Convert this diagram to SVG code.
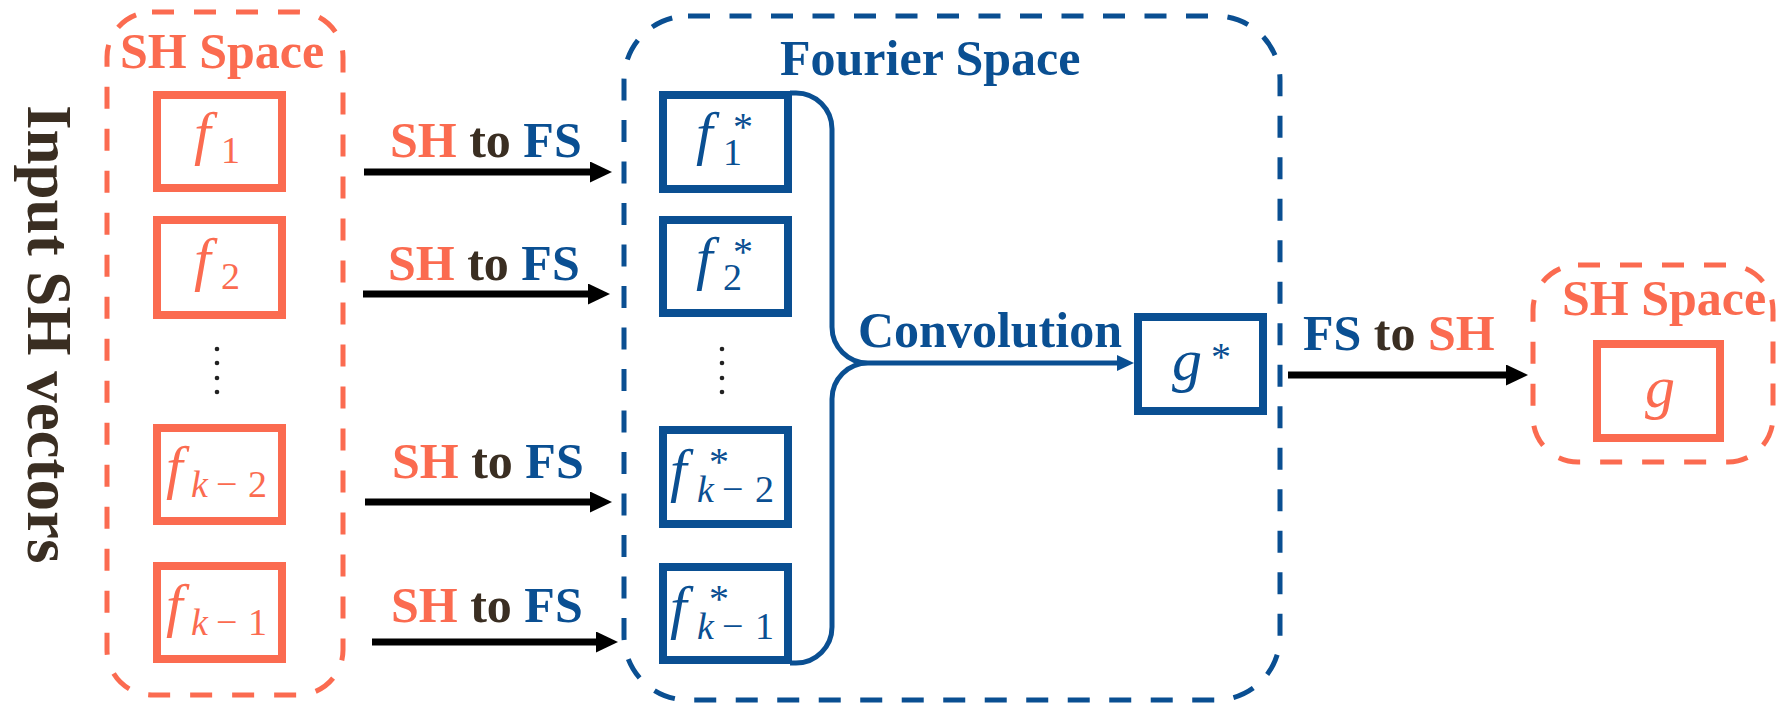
<svg xmlns="http://www.w3.org/2000/svg" width="1777" height="705" viewBox="0 0 1777 705">
<style>
.bg{fill:#ffffff}
.odash{fill:none;stroke:#FB6B50;stroke-width:5;stroke-dasharray:22 20}
.bdash{fill:none;stroke:#0A4F92;stroke-width:5;stroke-dasharray:22 19.5}
.obox{fill:#ffffff;stroke:#FB6B50;stroke-width:8}
.bbox{fill:#ffffff;stroke:#0A4F92;stroke-width:8}
.lbl{font-family:"Liberation Serif","Times New Roman",serif;font-weight:bold;font-size:50px}
.o{fill:#FB6B50}
.b{fill:#0A4F92}
.d{fill:#3A2E22}
.m{font-family:"Liberation Serif","Times New Roman",serif;font-style:italic}
.big{font-size:60px;font-style:italic}
.sub{font-size:38px;font-style:normal}
.subi{font-size:38px;font-style:italic}
.sup{font-size:40px;font-style:normal}
.arr{stroke:#000;stroke-width:7;fill:none}
.conv{stroke:#0A4F92;stroke-width:5;fill:none}
.dot{fill:#222}
</style>
<defs>
<marker id="ah" markerUnits="userSpaceOnUse" viewBox="0 0 22 21" markerWidth="22" markerHeight="21" refX="2" refY="10.5" orient="auto">
<path d="M0,0 L22,10.5 L0,21 Z" fill="#000"/>
</marker>
<marker id="ahb" markerUnits="userSpaceOnUse" viewBox="0 0 17 16" markerWidth="17" markerHeight="16" refX="2" refY="8" orient="auto">
<path d="M0,0 L17,8 L0,16 Z" fill="#0A4F92"/>
</marker>
</defs>
<rect class="bg" x="0" y="0" width="1777" height="705"/>

<g id="input-label">
<text class="lbl d" style="font-size:63px" transform="translate(28,105) rotate(90)">Input SH vectors</text>
</g>

<g id="sh-space-left">
<rect class="odash" x="107" y="12" width="236" height="683" rx="45" ry="45"/>
<text class="lbl o" x="120" y="68">SH Space</text>
</g>

<g id="node-f1">
<rect class="obox" x="157" y="95" width="125" height="93"/>
<text class="m o"><tspan class="big" x="194" y="153">f</tspan><tspan class="sub" x="221" y="163">1</tspan></text>
</g>
<g id="node-f2">
<rect class="obox" x="157" y="220" width="125" height="95"/>
<text class="m o"><tspan class="big" x="194" y="279">f</tspan><tspan class="sub" x="221" y="289">2</tspan></text>
</g>
<g id="dots-left">
<circle class="dot" cx="217" cy="349" r="2.3"/>
<circle class="dot" cx="217" cy="363" r="2.3"/>
<circle class="dot" cx="217" cy="378" r="2.3"/>
<circle class="dot" cx="217" cy="392" r="2.3"/>
</g>
<g id="node-fk2">
<rect class="obox" x="157" y="428" width="125" height="93"/>
<text class="m o"><tspan class="big" x="166" y="487">f</tspan><tspan class="subi" x="191" y="497">k</tspan><tspan class="sub" x="216" y="497">−</tspan><tspan class="sub" x="248" y="497">2</tspan></text>
</g>
<g id="node-fk1">
<rect class="obox" x="157" y="566" width="125" height="93"/>
<text class="m o"><tspan class="big" x="166" y="625">f</tspan><tspan class="subi" x="191" y="635">k</tspan><tspan class="sub" x="216" y="635">−</tspan><tspan class="sub" x="248" y="635">1</tspan></text>
</g>

<g id="fourier-space">
<rect class="bdash" x="624" y="16" width="656" height="684" rx="64" ry="64"/>
<text class="lbl b" x="780" y="75">Fourier Space</text>
</g>

<g id="node-f1s">
<rect class="bbox" x="663" y="95" width="125" height="94"/>
<text class="m b"><tspan class="big" x="696" y="153">f</tspan><tspan class="sup" x="733" y="140">*</tspan><tspan class="sub" x="723" y="165">1</tspan></text>
</g>
<g id="node-f2s">
<rect class="bbox" x="663" y="220" width="125" height="93"/>
<text class="m b"><tspan class="big" x="696" y="278">f</tspan><tspan class="sup" x="733" y="265">*</tspan><tspan class="sub" x="723" y="290">2</tspan></text>
</g>
<g id="dots-mid">
<circle class="dot" cx="722" cy="349" r="2.3"/>
<circle class="dot" cx="722" cy="363" r="2.3"/>
<circle class="dot" cx="722" cy="378" r="2.3"/>
<circle class="dot" cx="722" cy="392" r="2.3"/>
</g>
<g id="node-fk2s">
<rect class="bbox" x="663" y="430" width="125" height="94"/>
<text class="m b"><tspan class="big" x="670" y="490">f</tspan><tspan class="sup" x="709" y="475">*</tspan><tspan class="subi" x="697" y="502">k</tspan><tspan class="sub" x="722" y="502">−</tspan><tspan class="sub" x="755" y="502">2</tspan></text>
</g>
<g id="node-fk1s">
<rect class="bbox" x="663" y="567" width="125" height="93"/>
<text class="m b"><tspan class="big" x="670" y="627">f</tspan><tspan class="sup" x="709" y="612">*</tspan><tspan class="subi" x="697" y="639">k</tspan><tspan class="sub" x="722" y="639">−</tspan><tspan class="sub" x="755" y="639">1</tspan></text>
</g>

<g id="node-gs">
<rect class="bbox" x="1138" y="317" width="125" height="94"/>
<text class="m b"><tspan class="big" x="1172" y="380">g</tspan><tspan class="sup" x="1211" y="370">*</tspan></text>
</g>

<g id="sh-space-right">
<rect class="odash" x="1533" y="265" width="240" height="197" rx="45" ry="45"/>
<text class="lbl o" x="1562" y="315">SH Space</text>
</g>
<g id="node-g">
<rect class="obox" x="1597" y="344" width="123" height="94"/>
<text class="m o"><tspan class="big" x="1645" y="407">g</tspan></text>
</g>

<g id="connectors">
<line class="arr" x1="364" y1="172" x2="592" y2="172" marker-end="url(#ah)"/>
<line class="arr" x1="363" y1="294" x2="590" y2="294" marker-end="url(#ah)"/>
<line class="arr" x1="365" y1="502" x2="592" y2="502" marker-end="url(#ah)"/>
<line class="arr" x1="372" y1="642" x2="598" y2="642" marker-end="url(#ah)"/>
<line class="arr" x1="1288" y1="375" x2="1508" y2="375" marker-end="url(#ah)"/>
<path class="conv" d="M790 93 H796 A36 36 0 0 1 832 129 V327 A36 36 0 0 0 868 363 A36 36 0 0 0 832 399 V627 A36 36 0 0 1 796 663 H790"/>
<line class="conv" x1="868" y1="363" x2="1119" y2="363" marker-end="url(#ahb)"/>
<text class="lbl" x="390" y="157"><tspan class="o">SH</tspan><tspan class="d"> to </tspan><tspan class="b">FS</tspan></text>
<text class="lbl" x="388" y="280"><tspan class="o">SH</tspan><tspan class="d"> to </tspan><tspan class="b">FS</tspan></text>
<text class="lbl" x="392" y="478"><tspan class="o">SH</tspan><tspan class="d"> to </tspan><tspan class="b">FS</tspan></text>
<text class="lbl" x="391" y="622"><tspan class="o">SH</tspan><tspan class="d"> to </tspan><tspan class="b">FS</tspan></text>
<text class="lbl b" x="858" y="347">Convolution</text>
<text class="lbl" x="1303" y="350"><tspan class="b">FS</tspan><tspan class="d"> to </tspan><tspan class="o">SH</tspan></text>
</g>
</svg>
